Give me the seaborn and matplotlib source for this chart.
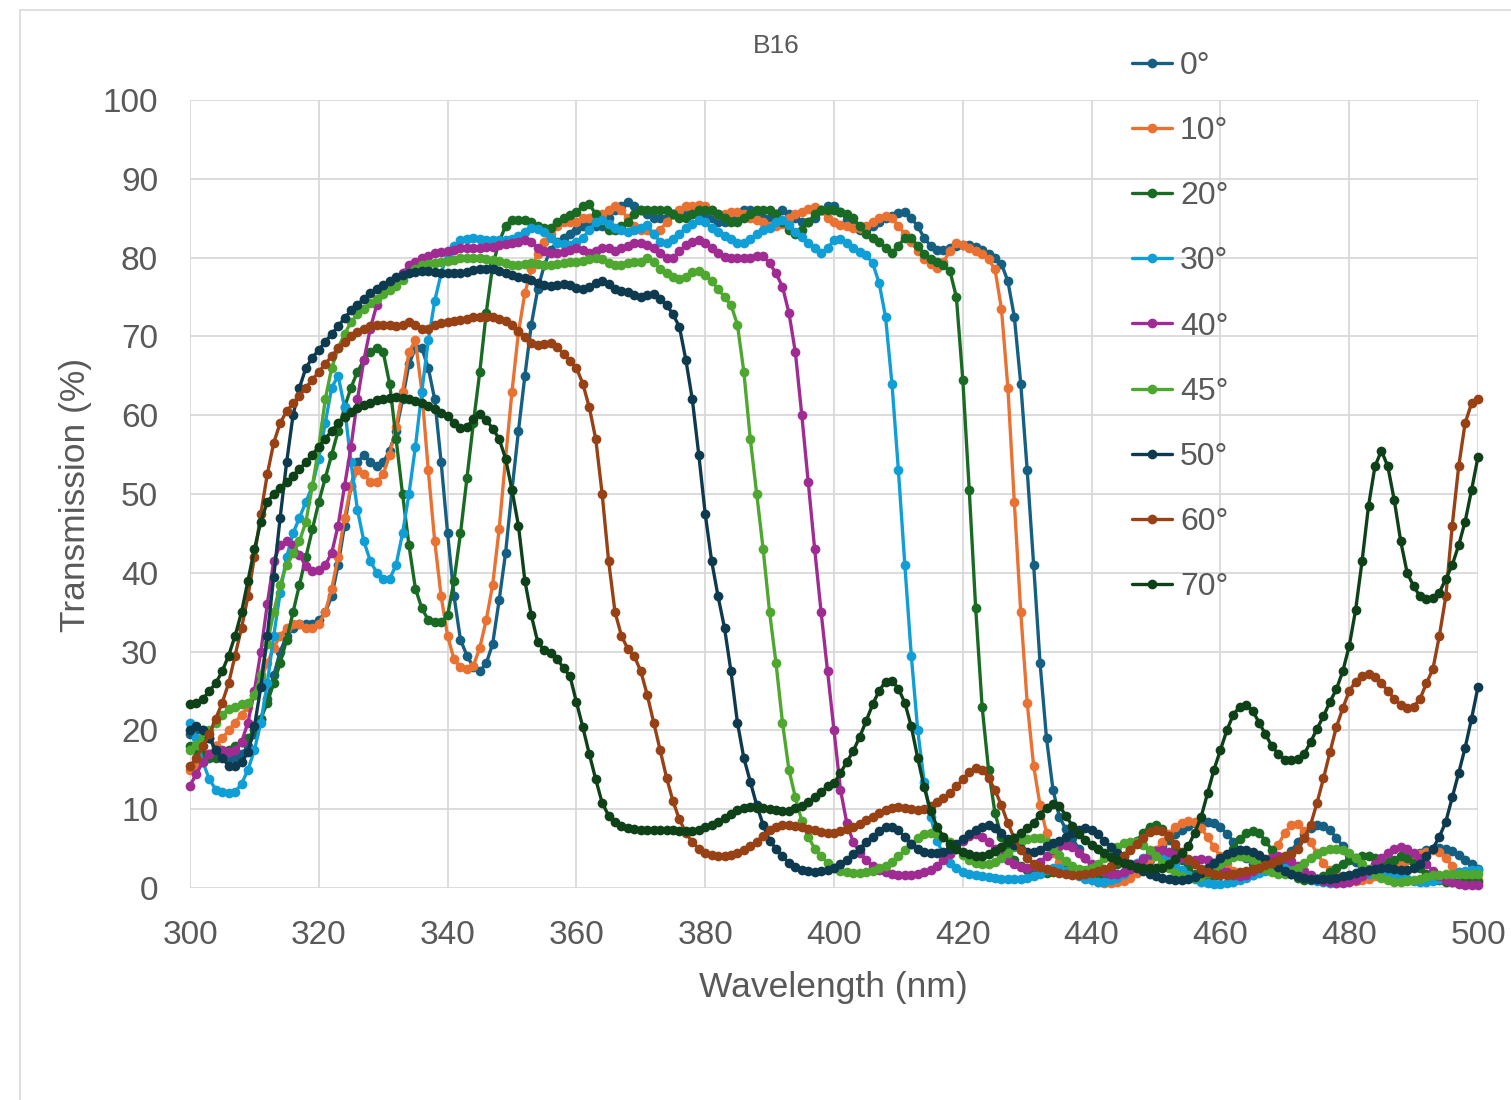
import numpy as np
import pandas as pd
import matplotlib
matplotlib.use("Agg")
import matplotlib.pyplot as plt
from matplotlib.lines import Line2D
import seaborn as sns

# ---------------- data ----------------
wavelength = list(range(300, 501))
angles = ["0°", "10°", "20°", "30°", "40°", "45°", "50°", "60°", "70°"]
colors = ["#156082", "#E97132", "#196B24", "#0F9ED5", "#A02B93",
          "#4EA72E", "#0E3A50", "#974115", "#0F4119"]

t_0 = [19.5, 20, 20, 19, 18, 17, 16.5, 16.5, 17, 18,
       19.5, 21.5, 24, 27, 30, 32, 33, 33.5, 33.5, 33.5,
       34, 35, 37, 41, 46, 51, 54, 55, 54, 53.5,
       54, 55.5, 58, 62, 66.5, 68.5, 68.5, 66, 62, 54,
       45, 37, 31.5, 29.5, 28, 27.5, 28.5, 31, 36.5, 42.5,
       50.5, 58, 65, 71.5, 76, 79, 81, 82, 82.5, 83,
       83.5, 84, 84.5, 84, 84, 85, 86, 86.5, 87, 86.5,
       86, 85.5, 85, 85, 85, 85.5, 85.5, 85.5, 85.5, 85.5,
       85.5, 85, 84.5, 84.5, 85, 85.5, 86, 86, 85.5, 85,
       85, 85.5, 86, 85.5, 85, 84.5, 84.5, 85, 86, 86.5,
       86.5, 85.8, 84.8, 84, 83.5, 83.5, 84, 84.5, 85, 85.3,
       85.6, 85.8, 85, 84, 82.5, 81.5, 81, 81, 81.2, 81.5,
       81.6, 81.6, 81.3, 81, 80.5, 80, 79.2, 77, 72.5, 64,
       53, 41, 28.5, 19, 12.5, 9, 7.5, 6.3, 5, 3.8,
       2.8, 2.1, 1.6, 1.3, 1.2, 1.3, 1.6, 2.1, 2.8, 3.6,
       4.4, 5.3, 6.1, 6.8, 7.4, 7.9, 8.2, 8.4, 8.4, 8.2,
       7.7, 6.9, 5.9, 4.8, 3.8, 3, 2.5, 2.3, 2.4, 2.9,
       3.7, 4.7, 5.8, 6.8, 7.6, 8, 7.9, 7.3, 6.4, 5.3,
       4.2, 3.3, 2.6, 2.1, 1.9, 1.9, 2.1, 2.5, 3, 3.5,
       4, 4.4, 4.8, 5, 5.1, 5, 4.7, 4.2, 3.6, 3,
       2.4]

t_10 = [15, 15.5, 16, 17, 18, 19, 20, 21, 22, 23,
        24.5, 26.5, 28.5, 30.5, 32, 33, 33.5, 33.5, 33, 33,
        33.5, 35, 38, 42, 47, 51, 53, 52.5, 51.5, 51.5,
        52.5, 55, 58.5, 63, 68, 69.5, 63, 53, 44, 37,
        32, 29, 28, 27.8, 28.2, 30.5, 34, 38.5, 45.5, 54.5,
        63, 70.5, 75.5, 78.5, 80.5, 82, 83, 84, 84.5, 84.5,
        84.5, 85, 85, 85, 85.5, 86, 86.5, 86, 85, 84,
        83.5, 83.5, 83, 83.5, 84.5, 85.5, 86, 86.5, 86.5, 86.7,
        86.5, 86, 85.5, 85.5, 85.8, 85.8, 85.5, 85, 84.8, 84.5,
        84, 84, 84.3, 85, 85.5, 85.8, 86.2, 86.4, 86, 85,
        84.5, 84.2, 84, 83.8, 83.8, 84, 84.5, 85, 85.3, 85,
        84, 83, 82, 80.8, 79.8, 79.2, 78.7, 79.5, 80.8, 81.8,
        81.6, 81.2, 80.8, 80.4, 79.8, 78.5, 73.5, 63.5, 49, 35,
        23.5, 15.5, 10.5, 7, 4.5, 3.3, 2.6, 2.1, 1.7, 1.4,
        1.1, 0.8, 0.6, 0.6, 0.7, 0.9, 1.3, 1.9, 2.7, 3.7,
        4.8, 5.9, 6.9, 7.7, 8.2, 8.5, 8.4, 7.6, 6.5, 5.2,
        4, 3, 2.2, 1.7, 1.5, 1.6, 2, 2.8, 4, 5.5,
        7, 8, 8.1, 7.2, 5.8, 4.4, 3.2, 2.3, 1.6, 1.2,
        1, 0.9, 1, 1.2, 1.5, 1.9, 2.3, 2.7, 3.1, 3.5,
        3.9, 4.3, 4.6, 4.8, 4.6, 3.8, 2.8, 2, 1.5, 1.2,
        1]

t_20 = [18, 17.5, 17, 16.5, 16.5, 17, 17.5, 18, 18.5, 19,
        20, 21.5, 23.5, 26, 28.5, 31.5, 35, 38.5, 42, 45.5,
        49, 52, 55, 58, 61, 63.5, 65.5, 67, 68, 68.5,
        68, 64, 57, 50, 43.5, 38, 35.5, 34, 33.7, 33.7,
        34.6, 39, 45, 52, 59, 65.5, 73, 79, 82, 84,
        84.8, 84.8, 84.8, 84.5, 84, 83.8, 83.8, 84.5, 85, 85.4,
        85.8, 86.5, 86.8, 85.5, 84.5, 83.5, 83.5, 84, 84.5, 85.5,
        86, 86, 86, 86, 86, 85.5, 85, 85, 85.5, 86,
        86, 86, 85.5, 85, 84.5, 84.5, 85, 85.5, 86, 86,
        86, 85.5, 84.5, 83.5, 83, 83.5, 84.5, 85.5, 86, 86,
        86, 85.8, 85.5, 85, 84, 83, 82.5, 82, 81.2, 80.6,
        81.5, 82.5, 82.5, 81.5, 80.5, 79.8, 79.5, 79, 78.3, 75,
        64.5, 50.5, 35.5, 23, 15, 9.5, 6.5, 4.8, 3.6, 2.8,
        2.3, 2, 1.9, 1.9, 2, 2.2, 2.3, 2.2, 2, 1.8,
        1.6, 1.6, 1.8, 2.2, 3, 4, 5, 6, 7, 7.8,
        8, 7.5, 6.5, 5, 3.5, 2.5, 1.8, 1.3, 1.2, 1.5,
        2.3, 3.5, 5, 6.2, 7, 7.2, 7, 6, 4.8, 3.5,
        2.5, 1.8, 1.3, 1, 1, 1.2, 1.5, 2, 2.5, 3,
        3.5, 3.8, 4, 4, 3.8, 3.5, 3.3, 3.6, 4, 3.8,
        3.2, 2.5, 1.8, 1.3, 1, 0.8, 0.8, 0.8, 0.8, 0.8,
        0.8]

t_30 = [21, 19, 16, 13.8, 12.5, 12.2, 12, 12.2, 13.2, 15,
        17.5, 21, 26, 32, 37.5, 42, 45, 47, 49, 51,
        54.5, 59, 63.5, 65, 61, 54, 48, 44, 41.5, 40,
        39.2, 39.2, 41, 45, 50, 56, 63, 69.5, 74.5, 78,
        80.5, 81.5, 82.2, 82.4, 82.5, 82.4, 82.2, 82.2, 82.2, 82.2,
        82.4, 82.8, 83.3, 83.8, 83.6, 83.2, 82.5, 81.9, 81.7, 81.6,
        82, 82.5, 83.5, 84.5, 84.8, 84.3, 83.8, 83.5, 83.3, 83.5,
        83.8, 84.1, 83, 82, 81.9, 82.3, 83, 83.8, 84.3, 84.8,
        84.5, 83.8, 83.2, 82.8, 82.3, 81.9, 81.9, 82.3, 83, 83.5,
        83.8, 84.5, 84.8, 84.2, 83.2, 82.6, 81.9, 81.2, 80.6, 81.2,
        82.2, 82.4, 81.8, 81.2, 80.7, 80.3, 79.3, 76.8, 72.5, 64,
        53, 41, 29.5, 20, 13.5, 9, 6, 4.2, 3.2, 2.5,
        2, 1.8, 1.6, 1.5, 1.4, 1.3, 1.2, 1.2, 1.2, 1.2,
        1.3, 1.5, 1.8, 2.3, 2.5, 2.5, 2.2, 1.8, 1.5, 1.2,
        1, 0.8, 0.8, 1, 1.3, 1.8, 2.5, 3.2, 3.8, 4.2,
        4.3, 4, 3.5, 3, 2.3, 1.7, 1.2, 0.8, 0.6, 0.5,
        0.5, 0.6, 0.8, 1, 1.3, 1.6, 1.9, 2.2, 2.4, 2.5,
        2.5, 2.3, 2, 1.6, 1.2, 0.9, 0.7, 0.6, 0.6, 0.8,
        1, 1.3, 1.6, 1.8, 2, 2, 1.9, 1.7, 1.4, 1.1,
        0.9, 0.8, 0.8, 0.9, 1.1, 1.4, 1.7, 2, 2.2, 2.3,
        2.3]

t_40 = [13, 14.5, 16, 17, 17.5, 17.5, 17.2, 17.5, 18.5, 21,
        25, 30, 36, 41.5, 43.5, 44, 43.5, 42.3, 40.8, 40.2,
        40.3, 41, 42.5, 46, 51, 56, 62, 67, 71, 74,
        75.7, 76.8, 77.3, 78, 79, 79.5, 79.9, 80.2, 80.6, 80.7,
        80.9, 81, 81.2, 81.2, 81.2, 81.2, 81.3, 81.4, 81.6, 81.7,
        81.9, 82, 82.2, 82, 81.2, 80.8, 80.6, 80.6, 80.7, 81,
        81.2, 81, 80.6, 80.8, 81.2, 81.2, 80.9, 81.2, 81.5, 81.8,
        81.9, 81.6, 81.2, 80.6, 80, 80, 80.8, 81.6, 82, 82.2,
        81.8, 81.2, 80.6, 80.1, 79.9, 79.9, 79.9, 80, 80.2, 80.2,
        79.3, 78, 76.3, 73, 68, 60, 51.5, 43, 35, 27.5,
        20, 12.5, 8.2, 5.8, 4.5, 3.5, 2.8, 2.3, 2, 1.8,
        1.7, 1.6, 1.7, 1.8, 2, 2.3, 2.8, 3.5, 4.3, 5.2,
        6, 6.6, 6.8, 6.5, 5.8, 5, 4.2, 3.5, 3, 2.7,
        2.6, 2.8, 3.3, 4, 4.8, 5.3, 5.5, 5.2, 4.5, 3.8,
        3, 2.4, 2, 1.8, 1.8, 2, 2.4, 3, 3.7, 4.3,
        4.7, 4.8, 4.6, 4.2, 3.8, 3.6, 3.6, 3.7, 3.6, 3.2,
        2.6, 2, 1.6, 1.5, 1.7, 2.2, 2.8, 3.4, 3.8, 4,
        3.8, 3.4, 2.8, 2.2, 1.6, 1.2, 0.9, 0.7, 0.6, 0.6,
        0.7, 1, 1.5, 2.2, 3, 3.8, 4.5, 5, 5.2, 5,
        4.5, 3.8, 3, 2.2, 1.5, 1, 0.7, 0.5, 0.4, 0.4,
        0.4]

t_45 = [17.5, 18.2, 19, 20, 21, 22, 22.7, 23, 23.3, 23.5,
        24.5, 27, 31, 35, 38.5, 41, 42.5, 44, 46.5, 51,
        56, 62, 66, 68.5, 70.3, 71.8, 72.8, 73.5, 74.2, 74.8,
        75.4, 75.9, 76.4, 77.2, 78, 78.5, 79, 79.2, 79.3, 79.4,
        79.6, 79.7, 79.9, 79.9, 79.9, 79.9, 79.8, 79.7, 79.6, 79.3,
        79, 79, 79.2, 79.3, 79.2, 79, 79, 79.2, 79.3, 79.4,
        79.5, 79.6, 79.8, 79.9, 79.8, 79.3, 79, 79, 79.3, 79.5,
        79.5, 79.9, 79.5, 78.6, 78, 77.6, 77.3, 77.6, 78.2, 78.3,
        77.8, 77, 76, 75, 74, 71.5, 65.5, 57, 50, 43,
        35, 28.5, 21, 15, 11.5, 8.5, 6.5, 5, 4, 3.2,
        2.6, 2.2, 2, 1.9, 1.9, 2, 2.2, 2.5, 2.8, 3.3,
        4, 4.8, 5.6, 6.3, 6.8, 7, 6.9, 6.5, 5.8, 5,
        4.2, 3.6, 3.2, 3, 3, 3.3, 3.8, 4.5, 5.2, 5.8,
        6.2, 6.4, 6.3, 5.8, 5, 4.2, 3.4, 2.8, 2.4, 2.3,
        2.5, 3, 3.8, 4.5, 5.2, 5.7, 5.9, 5.8, 5.4, 4.8,
        4, 3.2, 2.5, 1.9, 1.5, 1.3, 1.3, 1.5, 1.9, 2.4,
        3, 3.5, 3.9, 4, 3.9, 3.5, 3, 2.4, 2, 1.8,
        1.8, 2.1, 2.6, 3.2, 3.8, 4.3, 4.7, 5, 5, 4.8,
        4.4, 3.8, 3.1, 2.4, 1.8, 1.3, 1, 0.8, 0.8, 0.9,
        1, 1.2, 1.4, 1.6, 1.7, 1.8, 1.8, 1.8, 1.8, 1.8,
        1.8]

t_50 = [20, 20.5, 20, 19, 17.5, 16.5, 15.5, 15.5, 16, 17.2,
        20.5, 25.5, 32, 39.5, 47, 54, 60, 63.5, 66, 67.3,
        68.3, 69.3, 70.3, 71.3, 72.3, 73.3, 74, 74.8, 75.5, 76,
        76.5, 77, 77.5, 77.8, 78, 78.2, 78.3, 78.3, 78.2, 78,
        78, 78, 78, 78.2, 78.4, 78.5, 78.5, 78.5, 78.3, 78,
        77.8, 77.6, 77.4, 77.2, 76.8, 76.5, 76.4, 76.5, 76.7, 76.5,
        76.2, 76, 76.3, 76.8, 77, 76.6, 76, 75.7, 75.6, 75.3,
        75, 75.2, 75.4, 74.8, 74, 72.8, 71.2, 67, 62, 55,
        47.5, 41.5, 37, 33, 27.5, 21, 16.5, 13.5, 10.5, 8,
        6, 5, 4, 3.2, 2.7, 2.3, 2.1, 2, 2.1, 2.3,
        2.5, 3, 3.6, 4.3, 5, 5.8, 6.5, 7.2, 7.7, 7.8,
        7.3, 6.5, 5.6, 5, 4.6, 4.4, 4.4, 4.6, 5, 5.6,
        6.2, 6.8, 7.4, 7.8, 8, 7.6, 7, 6.2, 5.4, 4.9,
        4.6, 4.6, 4.8, 5.3, 5.7, 6, 6.5, 7, 7.4, 7.6,
        7.4, 6.8, 6, 5.2, 4.4, 3.6, 3, 2.5, 2.1, 1.8,
        1.5, 1.3, 1.1, 1, 1, 1.1, 1.4, 1.9, 2.5, 3.2,
        3.8, 4.3, 4.6, 4.8, 4.8, 4.6, 4.2, 3.7, 3.2, 2.7,
        2.2, 1.8, 1.5, 1.3, 1.2, 1.1, 1.1, 1.2, 1.3, 1.5,
        1.7, 1.9, 2.1, 2.3, 2.4, 2.5, 2.5, 2.4, 2.3, 2.3,
        2.5, 3, 4, 5, 6.5, 8.4, 11.5, 14.6, 17.8, 21.5,
        25.5]

t_60 = [15.5, 16.5, 18, 19.5, 21.5, 23.5, 26, 29.5, 33, 37,
        42, 47.5, 52.5, 56.5, 59, 60.5, 61.5, 62.5, 63.5, 64.5,
        65.5, 66.5, 67.5, 68.5, 69.3, 70, 70.5, 71, 71.3, 71.5,
        71.5, 71.5, 71.3, 71.5, 71.8, 71.5, 70.9, 71, 71.4, 71.7,
        71.8, 72, 72.1, 72.2, 72.4, 72.5, 72.5, 72.4, 72.2, 71.9,
        71.5, 70.7, 69.9, 69.1, 68.9, 69, 69.2, 68.6, 67.8, 66.9,
        66, 64, 61, 57, 50, 41.5, 35, 32, 30.3, 29.4,
        27.5, 24.5, 21, 17.5, 14, 11, 8.7, 7, 5.8, 5,
        4.4, 4.2, 4.1, 4.1, 4.2, 4.5, 4.8, 5.3, 5.9, 6.6,
        7.3, 7.7, 8, 8, 7.9, 7.7, 7.5, 7.3, 7.1, 7,
        7, 7.2, 7.5, 7.7, 8.1, 8.6, 9, 9.5, 9.9, 10.2,
        10.3, 10.2, 10, 9.9, 10, 10.4, 10.9, 11.4, 12, 12.9,
        13.8, 14.7, 15.2, 15, 14, 12.4, 10.5, 8.2, 6.3, 4.8,
        3.8, 3.1, 2.7, 2.4, 2.1, 1.9, 1.8, 1.7, 1.7, 1.8,
        1.9, 2.1, 2.4, 2.8, 3.4, 4.1, 4.8, 5.6, 6.4, 7.1,
        7.4, 7.2, 6.6, 5.6, 4.6, 3.7, 3, 2.4, 2, 1.8,
        1.7, 1.7, 1.8, 2, 2.2, 2.4, 2.6, 2.9, 3.2, 3.6,
        4, 4.3, 5, 6.3, 8, 10.8, 13.9, 17.2, 20.4, 22.8,
        25, 26.2, 26.9, 27.2, 26.8, 26, 25, 24, 23.2, 22.8,
        23, 24, 26, 27.8, 32, 37, 46, 53.5, 59, 61.5,
        62]

t_70 = [23.3, 23.5, 24, 25, 26, 27.5, 29.5, 32, 35, 39,
        43, 46.5, 49, 50, 50.8, 51.5, 52.3, 53.2, 54, 55,
        56, 57, 58, 59, 59.8, 60.4, 60.9, 61.3, 61.6, 61.9,
        62.1, 62.2, 62.3, 62.2, 62, 61.8, 61.5, 61.2, 60.8, 60.3,
        59.9, 59, 58.4, 58.5, 59.5, 60.1, 59.4, 58.3, 57, 54.5,
        50.5, 46, 39, 34.6, 31.2, 30.2, 29.8, 29.1, 27.9, 26.9,
        23.6, 20.4, 17, 13.8, 10.8, 9.2, 8.4, 7.9, 7.6, 7.5,
        7.4, 7.4, 7.3, 7.3, 7.3, 7.3, 7.2, 7.2, 7.2, 7.4,
        7.7, 8, 8.4, 8.9, 9.4, 9.9, 10.2, 10.3, 10.2, 10.1,
        10, 9.9, 9.8, 9.8, 10.1, 10.4, 10.9, 11.5, 12.2, 12.9,
        13.3, 14.6, 16, 17.4, 19.2, 21.2, 23.3, 25, 26.2, 26.3,
        25.3, 23.5, 20.5, 16.5, 12.8, 9.8, 7.8, 6.5, 5.6, 5,
        4.6, 4.3, 4.1, 4.1, 4.3, 4.7, 5.2, 5.8, 6.4, 7,
        7.6, 8.3, 9.3, 10.2, 10.7, 10.4, 9.2, 7.9, 6.9, 6.1,
        5.5, 4.9, 4.4, 3.9, 3.5, 3.2, 2.9, 2.7, 2.6, 2.5,
        2.5, 2.6, 3, 3.7, 4.5, 5.3, 7, 9, 12, 15,
        17.5, 20, 22, 23, 23.2, 22.5, 21, 19.5, 18, 17,
        16.3, 16.2, 16.4, 17, 18.5, 20.2, 21.8, 23.6, 25.2, 27.5,
        30.7, 35.3, 41.5, 48.5, 53.5, 55.5, 53.5, 49.2, 44, 40,
        38.3, 37, 36.7, 36.8, 37.5, 39.2, 41, 43.5, 46.5, 50.5,
        54.7]

series = [t_0, t_10, t_20, t_30, t_40, t_45, t_50, t_60, t_70]
for s in series:
    assert len(s) == len(wavelength), len(s)

df = pd.concat(
    [pd.DataFrame({"Wavelength": wavelength, "Transmission": s, "Angle": a})
     for a, s in zip(angles, series)],
    ignore_index=True)

# ---------------- style ----------------
sns.set_theme(style="white")
plt.rcParams["font.family"] = ["Liberation Sans Narrow", "Liberation Sans", "DejaVu Sans"]
TXT = "#595959"
GRID = "#d9d9d9"

W, H = 1511, 1100
fig = plt.figure(figsize=(W / 100, H / 100), dpi=100)
ax = fig.add_axes([190 / W, (H - 888) / H, (1478 - 190) / W, (888 - 100) / H])

sns.lineplot(data=df, x="Wavelength", y="Transmission", hue="Angle",
             hue_order=angles, palette=colors, estimator=None, sort=False,
             marker="o", markersize=7, markeredgewidth=0, linewidth=2.4,
             legend=False, ax=ax)
for ln in ax.lines:
    ln.set_clip_on(False)

ax.set_xlim(300, 500)
ax.set_ylim(0, 100)
ax.set_xticks(range(300, 501, 20))
ax.set_yticks(range(0, 101, 10))
ax.grid(True, color=GRID, linewidth=1.3)
ax.set_axisbelow(True)
for sp in ax.spines.values():
    sp.set_visible(False)
ax.tick_params(axis="both", length=0, labelsize=24, labelcolor=TXT, pad=23)
ax.set_xlabel("")
ax.set_ylabel("")

fig.text(833 / W, 1 - 987 / H, "Wavelength (nm)", ha="center", va="center",
         fontsize=25.5, color=TXT)
fig.text(76 / W, 1 - 495 / H, "Transmission (%)", ha="center", va="center",
         rotation=90, fontsize=25.5, color=TXT)
fig.text(776 / W, 1 - 46 / H, "B16", ha="center", va="center",
         fontsize=19, color=TXT)

handles = [Line2D([], [], color=c, marker="o", markersize=7,
                  markeredgewidth=0, linewidth=2.4) for c in colors]
fig.legend(handles, angles, loc="upper left",
           bbox_to_anchor=(1132 / W, 1 - 51 / H), frameon=False,
           prop={"family": ["Liberation Sans", "DejaVu Sans"], "size": 23},
           labelcolor=TXT, handlelength=1.25, handletextpad=0.25,
           labelspacing=1.1, borderpad=0, borderaxespad=0)

# outer chart frame (top and left edges visible)
fig.add_artist(Line2D([20 / W, 1], [1 - 10 / H, 1 - 10 / H],
                      color=GRID, linewidth=1.2, transform=fig.transFigure))
fig.add_artist(Line2D([20 / W, 20 / W], [0, 1 - 10 / H],
                      color=GRID, linewidth=1.2, transform=fig.transFigure))

fig.savefig("out.png", dpi=100)
